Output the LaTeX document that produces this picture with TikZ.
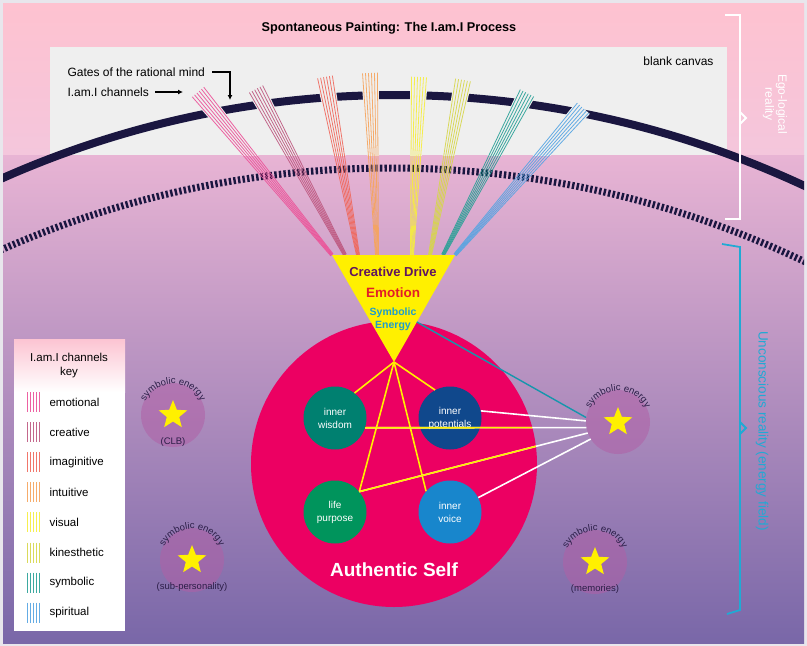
\documentclass[tikz,border=0pt]{standalone}
\usepackage{fontspec}
\setmainfont{Liberation Sans}
\usetikzlibrary{calc,positioning,shapes.geometric,decorations.text,arrows.meta}

\definecolor{panelgray}{RGB}{232,230,236}
\definecolor{pinktop}{RGB}{254,194,208}
\definecolor{pinkmid}{RGB}{244,198,220}
\definecolor{lilactop}{RGB}{232,180,212}
\definecolor{lilacbot}{RGB}{121,103,168}
\definecolor{canvasgray}{RGB}{239,239,239}
\definecolor{navyarc}{RGB}{26,22,64}
\definecolor{chemo}{RGB}{236,82,152}
\definecolor{chcrea}{RGB}{190,88,128}
\definecolor{chimag}{RGB}{240,104,92}
\definecolor{chintu}{RGB}{246,164,92}
\definecolor{chvis}{RGB}{246,238,60}
\definecolor{chkin}{RGB}{214,214,74}
\definecolor{chsym}{RGB}{40,160,150}
\definecolor{chspir}{RGB}{84,164,226}
\definecolor{driveyellow}{RGB}{255,240,0}
\definecolor{drivepurple}{RGB}{96,20,96}
\definecolor{emored}{RGB}{226,30,40}
\definecolor{symblue}{RGB}{30,156,204}
\definecolor{selfpink}{RGB}{236,0,98}
\definecolor{wisdomgreen}{RGB}{0,128,112}
\definecolor{potblue}{RGB}{16,72,140}
\definecolor{purposegreen}{RGB}{0,148,92}
\definecolor{voiceblue}{RGB}{24,134,204}
\definecolor{starfill}{RGB}{176,96,166}
\definecolor{starname}{RGB}{44,30,72}
\definecolor{linkteal}{RGB}{22,150,172}
\definecolor{bracecyan}{RGB}{32,170,212}
\definecolor{keypink}{RGB}{252,196,210}

\newcommand{\energyfont}{\fontsize{9.5}{11}\selectfont}

\tikzset{
  channel/.style={line width=0.8pt, draw opacity=0.9},
  innernode/.style={circle, minimum size=63pt, inner sep=0pt, text=white, align=center,
    font=\fontsize{10}{13}\selectfont},
  energynode/.style={circle, minimum size=64pt, inner sep=0pt, fill=starfill, fill opacity=0.55},
  starmark/.style={star, star points=5, star point ratio=2.3, minimum size=30pt, inner sep=0pt, fill=driveyellow},
  energylabel/.style={font=\energyfont, text=starname},
  yellowlink/.style={draw=driveyellow, line width=1.6pt},
  whitelink/.style={draw=white, line width=1.6pt},
  keyitem/.style={anchor=west, font=\fontsize{11.5}{13}\selectfont},
  bracemark/.style={line width=1.8pt},
  pointer/.style={-{Latex[length=5pt,width=5pt]}, line width=1.4pt}
}

\begin{document}
\begin{tikzpicture}[x=1pt,y=-1pt]
% Frame and background
\useasboundingbox (0,0) rectangle (807,646);
\fill[panelgray] (0,0) rectangle (807,646);
\shade[top color=pinktop, bottom color=pinkmid] (3,3) rectangle (804,155);
\shade[top color=lilactop, bottom color=lilacbot] (3,155) rectangle (804,643);
\fill[canvasgray] (50,47) rectangle (727,155);

% Title and canvas labels
\node[font=\bfseries\fontsize{12.7}{14}\selectfont] (title) at (389,28) {Spontaneous Painting: The I.am.I Process};
\node[anchor=east, font=\fontsize{12}{14}\selectfont] (blank) at (717,61) {blank canvas};
\node[anchor=west, font=\fontsize{12}{14}\selectfont] (gates) at (64,72) {Gates of the rational mind};
\node[anchor=west, font=\fontsize{12}{14}\selectfont] (channels) at (64,92) {I.am.I channels};
\coordinate (gatetip) at (230,100);
\coordinate (chantip) at (183,92);
\draw[pointer, shorten <=4pt] (gates.east) -| (gatetip);
\draw[pointer, shorten <=3pt] (channels.east) -- (chantip);

% Gates (solid) and threshold (dotted) arcs
\begin{scope}
  \clip (3,3) rectangle (804,643);
  \draw[navyarc, line width=8pt] (395,1063) ++(244:968) arc (244:297:968);
  \draw[navyarc, line width=7pt, dash pattern=on 2.4pt off 2.2pt] (390,1133) ++(244:965) arc (244:298:965);
\end{scope}

% Channel fans
\foreach \bx/\tx/\ty/\col in {332/198/92/chemo, 345/256/89/chcrea, 358/325/77/chimag, 377/370/73/chintu,
    412/419/77/chvis, 430/463/80/chkin, 443/527/93/chsym, 455/583/108/chspir}{
  \coordinate (fanB) at (\bx,255);
  \coordinate (fanT) at (\tx,\ty);
  \begin{scope}
    \clip (50,47) rectangle (727,155);
    \fill[canvasgray] ($(fanT)!9pt!90:(fanB)$) -- ($(fanT)!-9pt!90:(fanB)$)
      -- ($(fanB)!-2pt!-90:(fanT)$) -- ($(fanB)!2pt!-90:(fanT)$) -- cycle;
  \end{scope}
  \foreach \k in {-7.5,-4.5,-1.5,1.5,4.5,7.5}
    \draw[channel, \col] ($(fanT)!\k*1pt!90:(fanB)$) -- ($(fanB)!0.2*\k*1pt!-90:(fanT)$);
}

% Reality brackets
\draw[white, bracemark] (725,15) -- (740,15) -- (740,219) -- (725,219);
\draw[white, bracemark] (740,112) -- (746,118) -- (740,124);
\node[rotate=-90, text=white, align=center, font=\fontsize{12}{13}\selectfont] (ego) at (775,104) {Ego-logical\\reality};
\draw[bracecyan, bracemark] (722,244) -- (740,247) -- (740,610) -- (727,614);
\draw[bracecyan, bracemark] (740,422) -- (746,428) -- (740,434);
\node[rotate=-90, text=bracecyan, font=\fontsize{13.5}{14}\selectfont] (unconscious) at (762,431) {Unconscious reality (energy field)};

% Authentic self
\node[circle, fill=selfpink, minimum size=286pt, inner sep=0pt] (self) at (394,464) {};
\node[font=\bfseries\fontsize{19}{20}\selectfont, text=white] (selfname) at (394,570) {Authentic Self};
\node[innernode, fill=wisdomgreen] (wisdom) at (335,418) {inner\\wisdom};
\node[innernode, fill=potblue] (potentials) at (450,418) {inner\\potentials};
\node[innernode, fill=purposegreen] (purpose) at (335,512) {life\\purpose};
\node[innernode, fill=voiceblue] (voice) at (450,512) {inner\\voice};

% Key
\fill[white] (14,339) rectangle (125,631);
\shade[top color=keypink, bottom color=white] (14,339) rectangle (125,392);
\node[align=center, font=\fontsize{11.5}{14}\selectfont] (keytitle) at (69,366) {I.am.I channels\\key};
\foreach \col/\lab [count=\i] in {chemo/emotional, chcrea/creative, chimag/imaginitive, chintu/intuitive,
    chvis/visual, chkin/kinesthetic, chsym/symbolic, chspir/spiritual}{
  \foreach \k in {0,...,4}
    \draw[channel, \col] (27.5+\k*3, 361.9+30.1*\i) -- ++(0,20);
  \node[keyitem] (key\i) at (46, 371.9+30.1*\i) {\lab};
}

% Creative drive funnel
\coordinate (triL) at (332,255);
\coordinate (triR) at (455,255);
\coordinate (apex) at (394,362);
\coordinate (symedge) at ($(triR)!0.626!(apex)$);
\fill[driveyellow] (triL) -- (triR) -- (apex) -- cycle;
\node[font=\bfseries\fontsize{13}{14}\selectfont, text=drivepurple] (drive) at (393,272) {Creative Drive};
\node[font=\bfseries\fontsize{13.5}{15}\selectfont, text=emored] (emotion) at (393,293) {Emotion};
\node[font=\bfseries\fontsize{10.5}{13}\selectfont, text=symblue, align=center] (symenergy) at (393,319) {Symbolic\\Energy};

% Symbolic energy stars
\foreach \nm/\px/\py/\sub in {symright/618/422/{}, symclb/173/415/(CLB),
    symsub/192/560/(sub-personality), symmem/595/562/(memories)}{
  \node[energynode] (\nm) at (\px,\py) {};
  \node[starmark] (\nm-star) at (\nm) {};
  \path[decorate, decoration={text along path, text align=center,
      text={|\energyfont\color{starname}|symbolic energy}}]
    ($(\nm)+(190:31)$) arc (190:350:31);
  \node[energylabel] (\nm-sub) at ($(\nm)+(0,27)$) {\sub};
}

% Links
\foreach \tgt in {wisdom.52, potentials.118, purpose.40, voice.139}
  \draw[yellowlink] (apex) -- (\tgt);
\draw[whitelink] (potentials.13) -- (symright.178);
\draw[whitelink] (wisdom.-18) -- (symright.190);
\draw[whitelink] (purpose.40) -- (symright.200);
\draw[whitelink] (voice.27) -- (symright.212);
\begin{scope}
  \clip (self) circle (143);
  \draw[yellowlink] (wisdom.-18) -- (symright.190);
  \draw[yellowlink] (purpose.40) -- (symright.200);
\end{scope}
\draw[linkteal, line width=1.4pt] (symedge) -- (symright.172);
\end{tikzpicture}
\end{document}
